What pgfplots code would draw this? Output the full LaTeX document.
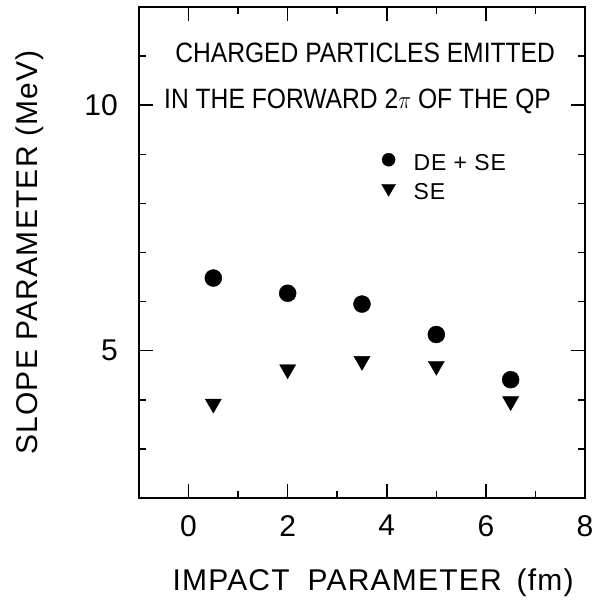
\documentclass[border=0pt]{standalone}
\usepackage{fontspec}
\setmainfont{Liberation Sans}
\usepackage{graphicx}
\usepackage{pgfplots}
\pgfplotsset{compat=1.18}
\newcommand{\lblfont}{\fontsize{30}{36}\selectfont\addfontfeature{LetterSpace=4}}
\newcommand{\txtfont}{\fontsize{28}{32}\selectfont}
\newcommand{\legfont}{\fontsize{23}{27}\selectfont\addfontfeature{LetterSpace=4}}
\begin{document}
\begin{tikzpicture}
\begin{axis}[
  scale only axis, width=446pt, height=491pt,
  xmin=-1, xmax=8, ymin=2, ymax=12,
  xtick={0,2,4,6,8}, ytick={5,10},
  minor xtick={1,3,5,7}, minor ytick={3,4,6,7,8,9,11},
  tick align=inside, major tick length=14pt, minor tick length=7pt,
  every tick/.style={black, line width=1.5pt},
  axis line style={line width=2.6pt},
  /pgf/number format/assume math mode=true,
  ticklabel style={font=\fontsize{30}{36}\selectfont, inner sep=0pt},
  xticklabel style={yshift=-17pt},
  yticklabel style={xshift=-21pt},
  xlabel={IMPACT\hspace{0.6em}PARAMETER\hspace{0.5em}(fm)},
  ylabel={SLOPE PARAMETER (MeV)},
  every axis x label/.style={at={(rel axis cs:0.525,-0.1874)}, anchor=base, font=\lblfont},
  every axis y label/.style={at={(rel axis cs:-0.2265,0.5)}, rotate=90, anchor=base, font=\lblfont},
  clip=false,
  legend cell align=left,
  legend image code/.code={\draw[#1] plot coordinates {(0pt,0.36em)};},
  legend style={draw=none, fill=none, at={(rel axis cs:0.5437,0.7026)}, anchor=north west,
    font=\legfont, row sep=11pt, inner sep=0pt, nodes={inner sep=0pt},
    /tikz/every odd column/.append style={column sep=18pt}},
]
\addplot[only marks, mark=*, mark size=8.5pt, black,
  legend image post style={mark size=6.5pt}]
  coordinates {(0.5,6.48) (2,6.17) (3.5,5.95) (5,5.33) (6.5,4.41)};
\addlegendentry{DE + SE}
\addplot[only marks, mark=triangle*, mark size=9.3pt, mark options={rotate=180}, black,
  legend image post style={mark size=8pt}]
  coordinates {(0.5,3.92) (2,4.62) (3.5,4.79) (5,4.69) (6.5,3.97)};
\addlegendentry{SE}
\node[font=\txtfont, anchor=base, inner sep=0pt] at (rel axis cs:0.507,0.886)
  {\scalebox{0.88}[1]{CHARGED PARTICLES EMITTED}};
\node[font=\txtfont, anchor=base, inner sep=0pt] at (rel axis cs:0.49,0.794)
  {\scalebox{0.88}[1]{IN THE FORWARD 2$\pi$ OF THE QP}};
\path (rel axis cs:-0.31166,-0.21792) rectangle (rel axis cs:1.03363,1.01426);
\end{axis}
\end{tikzpicture}
\end{document}
